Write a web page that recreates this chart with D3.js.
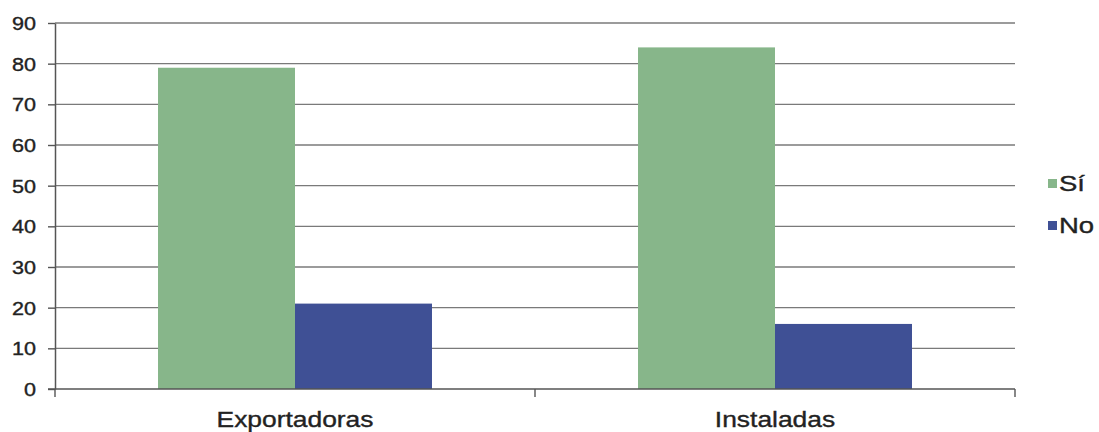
<!DOCTYPE html>
<html><head><meta charset="utf-8">
<script src="https://cdn.jsdelivr.net/npm/d3@7"></script>
<style>
body{margin:0;background:#fff;}
text{font-family:"Liberation Sans",Arial,sans-serif;fill:#222;stroke:#222;stroke-width:0.35px;}
</style></head>
<body><svg id="c" width="1099" height="432"></svg>
<script>
const categories = ["Exportadoras", "Instaladas"];
const seriesNames = ["Sí", "No"];
const siValues = [79, 84];
const noValues = [21, 16];
const yTickValues = [0, 10, 20, 30, 40, 50, 60, 70, 80, 90];
const colors = ["#87B68A", "#3F5095"];

const svg = d3.select("#c");
const mLeft = 55, mRight = 1015, mTop = 23, mBottom = 389;
const SX = 1.2;

const y = d3.scaleLinear().domain([0, 90]).range([mBottom, mTop]);
const x0 = d3.scaleBand().domain(categories).range([mLeft, mRight]).padding(0);
const x1 = d3.scaleBand().domain(seriesNames).range([0, x0.bandwidth()]).paddingInner(0).paddingOuter(0.752);

// gridlines
svg.append("g").selectAll("line").data(yTickValues.filter(d => d > 0)).join("line")
  .attr("x1", mLeft).attr("x2", mRight)
  .attr("y1", d => y(d)).attr("y2", d => y(d))
  .attr("stroke", "#7a7a7a").attr("stroke-width", 1.4);

// bars
const rows = categories.map((c, i) => ({c, vals: [siValues[i], noValues[i]]}));
const g = svg.append("g");
rows.forEach(r => {
  g.append("g").selectAll("rect").data(r.vals.map((v, j) => ({s: seriesNames[j], v, j}))).join("rect")
    .attr("x", d => x0(r.c) + x1(d.s))
    .attr("y", d => y(d.v))
    .attr("width", x1.bandwidth())
    .attr("height", d => y(0) - y(d.v))
    .attr("fill", d => colors[d.j]);
});

// y axis
const yAxis = svg.append("g").attr("transform", `translate(${mLeft},0)`)
  .call(d3.axisLeft(y).tickValues(yTickValues).tickSize(7).tickPadding(0).tickSizeOuter(0));
yAxis.select(".domain").attr("stroke", "#555").attr("stroke-width", 1.5);
yAxis.selectAll(".tick line").attr("stroke", "#555").attr("stroke-width", 1.4);
yAxis.selectAll(".tick text")
  .attr("x", 0).attr("dy", "0.36em")
  .attr("transform", `translate(-19,0) scale(${SX},1)`)
  .style("font-size", "18px").style("font-family", "Liberation Sans, Arial, sans-serif").attr("fill", "#222");

// x axis
const xAxis = svg.append("g").attr("transform", `translate(0,${mBottom})`);
xAxis.append("line").attr("x1", mLeft - 7).attr("x2", mRight).attr("y1", 0).attr("y2", 0)
  .attr("stroke", "#555").attr("stroke-width", 1.5);
const bounds = [mLeft, ...categories.map(c => x0(c) + x0.bandwidth())];
xAxis.selectAll("line.tk").data(bounds).join("line").attr("class", "tk")
  .attr("x1", d => d).attr("x2", d => d).attr("y1", 0).attr("y2", 8)
  .attr("stroke", "#555").attr("stroke-width", 1.4);
xAxis.selectAll("text").data(categories).join("text")
  .attr("text-anchor", "middle")
  .attr("transform", d => `translate(${x0(d) + x0.bandwidth() / 2},38) scale(${SX},1)`)
  .style("font-size", "22px")
  .text(d => d);

// legend
const lg = svg.append("g");
seriesNames.forEach((s, i) => {
  const cy = 184 + i * 42;
  lg.append("rect").attr("x", 1048).attr("y", cy - 5).attr("width", 9).attr("height", 9).attr("fill", colors[i]);
  lg.append("text").attr("transform", `translate(1059,${cy + 7}) scale(1.25,1)`)
    .style("font-size", "22px").text(s);
});
</script></body></html>
